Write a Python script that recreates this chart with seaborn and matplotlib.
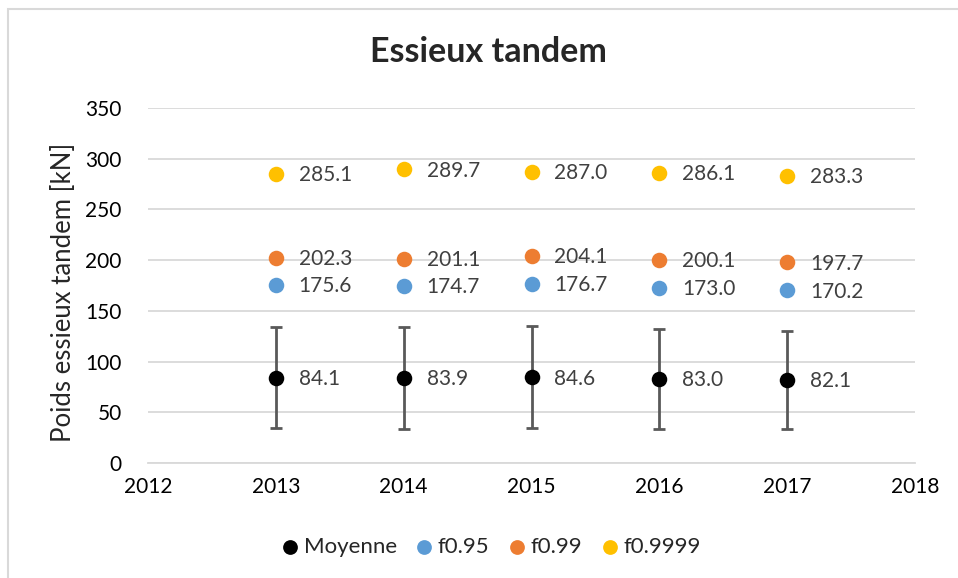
import matplotlib
matplotlib.use("Agg")
import matplotlib.pyplot as plt
from matplotlib.patches import Rectangle
import seaborn as sns
import pandas as pd

years = [2013, 2014, 2015, 2016, 2017]
moyenne = [84.1, 83.9, 84.6, 83.0, 82.1]
ecart = [50.0, 50.5, 50.5, 49.0, 48.5]
f095 = [175.6, 174.7, 176.7, 173.0, 170.2]
f099 = [202.3, 201.1, 204.1, 200.1, 197.7]
f09999 = [285.1, 289.7, 287.0, 286.1, 283.3]

series_names = ["Moyenne", "f0.95", "f0.99", "f0.9999"]
series_values = [moyenne, f095, f099, f09999]
palette = {"Moyenne": "#000000", "f0.95": "#5B9BD5",
           "f0.99": "#ED7D31", "f0.9999": "#FFC000"}

df = pd.DataFrame({
    "Année": years * len(series_names),
    "Valeur": [v for vals in series_values for v in vals],
    "Série": [n for n in series_names for _ in years],
})

sns.set_theme(style="white")
plt.rcParams["font.family"] = ["Lato", "DejaVu Sans"]

fig = plt.figure(figsize=(9.58, 5.78), dpi=100)
ax = fig.add_axes([148 / 958, 1 - 463 / 578, (915 - 148) / 958, (463 - 108) / 578])

# outer chart frame
fig.patches.append(Rectangle((8 / 958, -0.05), 1.1, 1 - 9 / 578 + 0.05,
                             transform=fig.transFigure, fill=False,
                             edgecolor="#D9D9D9", linewidth=1.5, zorder=0))

ax.errorbar(years, moyenne, yerr=ecart, fmt="none", ecolor="#595959",
            elinewidth=2, capsize=4.5, capthick=2, zorder=2)

for name in series_names:
    sub = df[df["Série"] == name]
    sns.scatterplot(data=sub, x="Année", y="Valeur", color=palette[name],
                    s=125, linewidth=0, ax=ax, label=name, zorder=3)
    for x, y in zip(sub["Année"], sub["Valeur"]):
        ax.annotate(f"{y:.1f}", (x, y), xytext=(16.5, -1), textcoords="offset points",
                    ha="left", va="center", fontsize=15, color="#404040")

ax.set_xlim(2012, 2018)
ax.set_ylim(0, 350)
ax.set_xticks(range(2012, 2019))
ax.set_yticks(range(0, 351, 50))
ax.tick_params(axis="both", length=0, labelsize=15, colors="#000000")
ax.tick_params(axis="x", pad=10)
ax.tick_params(axis="y", pad=19)
ax.grid(axis="y", color="#D9D9D9", linewidth=1.3)
ax.set_axisbelow(True)
for side in ["left", "right", "top"]:
    ax.spines[side].set_visible(False)
ax.spines["bottom"].set_color("#D9D9D9")
ax.spines["bottom"].set_linewidth(1.3)

ax.set_xlabel("")
ax.set_ylabel("Poids essieux tandem [kN]", fontsize=18.5)
ax.yaxis.set_label_coords((76 - 148) / 767, (463 - 292) / 355)
fig.text(488 / 958, 1 - 52 / 578, "Essieux tandem", fontsize=24.5, fontweight="bold",
         ha="center", va="center")

ax.legend(loc="center", bbox_to_anchor=((491 - 148) / 767, (463 - 547) / 355),
          ncol=4, frameon=False, fontsize=16, handletextpad=0.2, handlelength=0.8,
          columnspacing=0.85, markerscale=0.95)

fig.savefig("out.png", dpi=100)
